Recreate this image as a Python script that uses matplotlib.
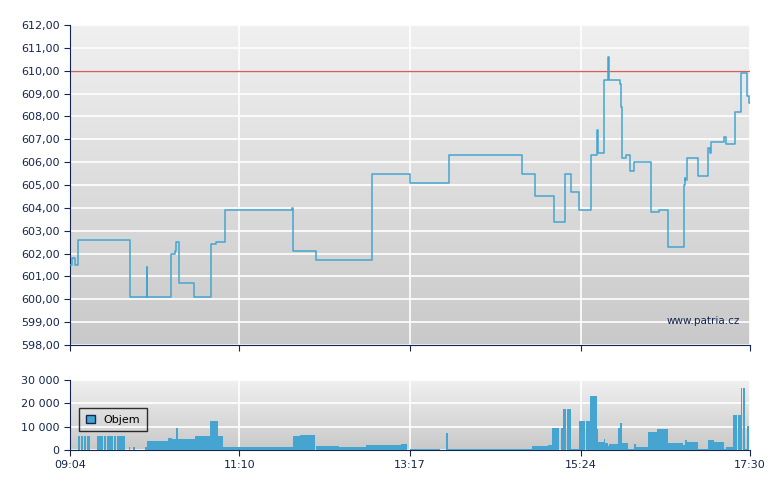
import matplotlib
matplotlib.use("Agg")
import matplotlib.pyplot as plt
import numpy as np
from matplotlib.ticker import FuncFormatter

# minutes after 09:04
price_t = [0, 1.5, 4, 6, 41, 45, 57, 57.5, 58, 74, 75, 78, 79, 81, 92, 104, 105, 108, 109, 115, 164, 165, 166,
           182, 183, 223, 225, 251, 253, 281, 282, 334, 336, 345, 346, 359, 360, 366, 368, 371, 373, 377, 379,
           386, 388, 391, 392, 393, 396, 397, 400, 401, 408, 409, 410, 411, 414, 417, 420, 421, 430, 432, 437,
           438, 445, 456, 457, 457.7, 458, 459, 467, 475, 476, 477, 478, 487, 488, 490, 494, 495, 499, 502, 504, 505, 506]
price_v = [601.5, 601.8, 601.5, 602.6, 602.6, 600.1, 601.4, 600.1, 600.1, 600.1, 602.0, 602.1, 602.5, 600.7, 600.1, 600.1,
           602.4, 602.4, 602.5, 603.9, 603.9, 604.0, 602.1,
           602.1, 601.7, 601.7, 605.5, 605.5, 605.1, 605.1, 606.3, 606.3, 605.5, 605.5, 604.5, 604.5, 603.4, 603.4, 605.5,
           605.5, 604.7, 604.7, 603.9,
           603.9, 606.3, 606.3, 607.4, 606.4, 606.4, 609.6, 610.6, 609.6, 609.6, 609.4, 608.4, 606.2, 606.3, 605.6, 606.0,
           606.0, 606.0, 603.8, 603.8,
           603.9, 602.3, 602.3, 605.0, 605.3, 605.2, 606.2, 605.4, 606.6, 606.4, 606.9, 606.9, 607.1, 606.8, 606.8, 606.8,
           608.2, 609.9, 609.9, 608.9, 608.6, 608.6]

vol_start = [6, 8.2, 10.4, 12.6, 20, 22.5, 25, 27.5, 30, 32.5, 35, 37.5, 44, 47, 56, 57, 73, 76, 79, 80, 93, 104, 110, 114,
             166, 171, 183, 200, 220, 246, 253, 280, 281, 344, 356, 359, 361, 365, 367, 370, 373, 379, 384, 387, 392,
             393, 397, 398, 400, 401, 408, 409, 411, 415, 420, 421, 430, 437, 445, 456, 458, 459, 467, 475, 479, 487,
             488, 493, 497, 499, 501, 502, 504]
vol_end = [7.8, 10, 12.2, 15, 22, 24.5, 27, 29.5, 32, 34.5, 37, 41, 45, 48, 57, 73, 76, 79, 80, 93, 104, 110, 114, 166,
           171, 182, 200, 220, 246, 251, 275, 281, 344, 356, 359, 361, 364, 367, 369, 373, 379, 383, 387, 392, 393,
           397, 398, 400, 401, 408, 409, 411, 415, 420, 421, 430, 437, 445, 456, 458, 459, 467, 475, 479, 487, 488,
           493, 496, 499, 500, 502, 504, 505.5]
vol_val = [5900, 5900, 5900, 5900, 5900, 5900, 5900, 5900, 5900, 5900, 5900, 5900, 1200, 1200, 1200, 3700, 5200, 4900,
           9300, 4900, 6000, 12400, 6000, 1300, 6000, 6500, 1800, 1500, 2200, 2600, 400, 7500, 400, 1800, 2000, 9300,
           9300, 9300, 17600, 17600, 400, 12400, 12400, 23000, 8800, 3500, 4700, 3100, 1900, 2600, 9300, 11500, 3100,
           400, 2600, 1300, 7900, 8800, 3100, 2000, 4400, 3500, 400, 4400, 3500, 400, 1300, 15000, 15000, 26600,
           26600, 400, 10300]

tick_pos = [0, 126, 253, 380, 506]
tick_lab = ["09:04", "11:10", "13:17", "15:24", "17:30"]
ref_level = 610.0

navy = "#14264f"
blue = "#45a5d0"
fig = plt.figure(figsize=(7.8, 4.9), dpi=100)
ax = fig.add_axes([70/780, 1-345/490, 680/780, 320/490])
axv = fig.add_axes([70/780, 40/490, 680/780, 70/490])

grad = np.linspace(0, 1, 256).reshape(-1, 1)
for a in (ax, axv):
    a.imshow(grad, aspect="auto", cmap=matplotlib.colors.LinearSegmentedColormap.from_list("g", ["#f0f0f0", "#c9c9c9"]),
             extent=[0, 1, 0, 1], transform=a.transAxes, zorder=0)
    a.set_xlim(0, 506)
    a.set_xticks(tick_pos)
    a.grid(True, color="white", lw=1.2, zorder=1)
    for s in ("top", "right"):
        a.spines[s].set_visible(False)
    for s in ("left", "bottom"):
        a.spines[s].set_color(navy)
    a.tick_params(colors=navy, labelsize=8, length=4, direction="out")
    a.set_axisbelow(True)

ax.set_ylim(598, 612)
ax.set_yticks(np.arange(598, 612.5, 1))
ax.yaxis.set_major_formatter(FuncFormatter(lambda v, p: f"{v:.2f}".replace(".", ",")))
ax.set_xticklabels([])
ax.axhline(ref_level, color="#d06060", lw=1.0, zorder=2)
ax.plot(price_t, price_v, drawstyle="steps-post", color=blue, lw=1.1, zorder=3)
ax.text(0.985, 0.06, "www.patria.cz", transform=ax.transAxes, ha="right", va="bottom", fontsize=7.5, color=navy)

axv.set_ylim(0, 30000)
axv.set_yticks([0, 10000, 20000, 30000])
axv.yaxis.set_major_formatter(FuncFormatter(lambda v, p: f"{int(v):,}".replace(",", " ")))
axv.set_xticklabels(tick_lab)
widths = [e - s for s, e in zip(vol_start, vol_end)]
axv.bar(vol_start, vol_val, width=widths, align="edge", color=blue, zorder=3, linewidth=0)
leg = axv.legend([plt.Rectangle((0, 0), 1, 1, fc=blue, ec=navy)], ["Objem"], loc="upper left",
                 bbox_to_anchor=(0.005, 0.68), fontsize=8, frameon=True, fancybox=False, handlelength=0.8,
                 handleheight=0.8, borderpad=0.6)
leg.get_frame().set_edgecolor("black")
leg.get_frame().set_facecolor("none")
fig.savefig("out.png", dpi=100, facecolor="white")
